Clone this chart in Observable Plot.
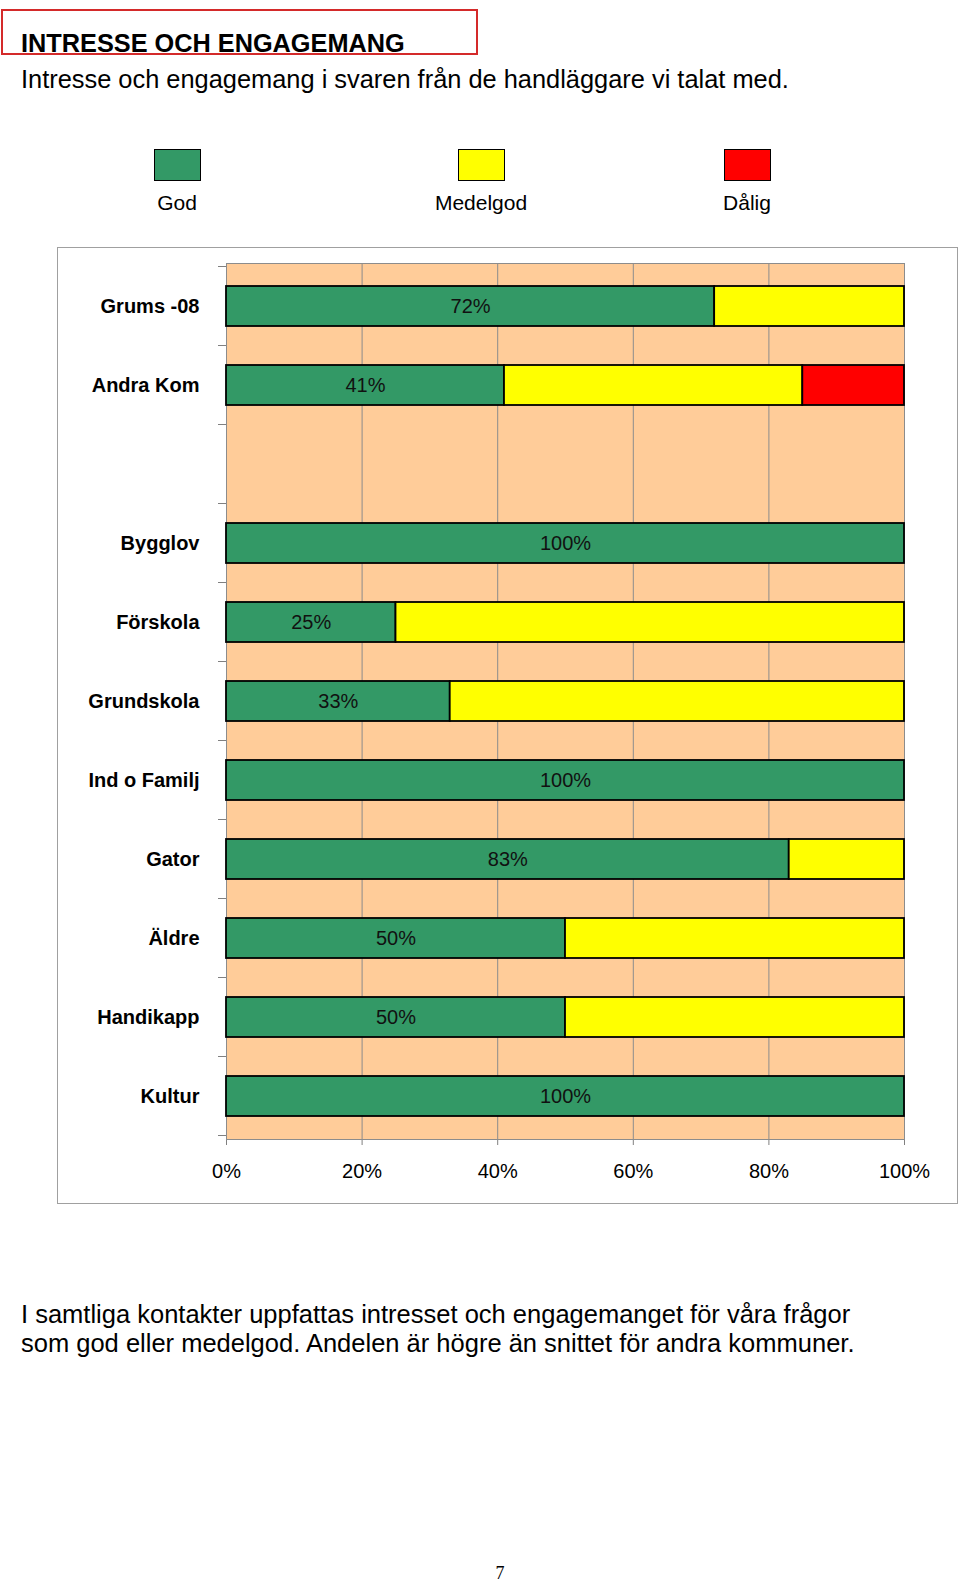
<!DOCTYPE html>
<html>
<head>
<meta charset="utf-8">
<script src="https://cdn.jsdelivr.net/npm/d3@7"></script>
<script src="https://cdn.jsdelivr.net/npm/@observablehq/plot@0.6"></script>
<style>
  html, body { margin: 0; padding: 0; background: #fff; }
  body { width: 960px; height: 1582px; position: relative; overflow: hidden;
         font-family: "Liberation Sans", Arial, sans-serif; color: #000; }
  .abs { position: absolute; white-space: nowrap; }
  #titlebox { left: 1px; top: 9px; width: 477px; height: 46px; border: 2px solid #d42a2a; box-sizing: border-box; }
  #title { left: 21px; top: 29px; font-size: 25.3px; font-weight: bold; line-height: 28px; }
  #subtitle { left: 21px; top: 65px; font-size: 25.4px; line-height: 28px; }
  .sw { position: absolute; top: 149px; width: 47px; height: 32px; border: 1.5px solid #000; box-sizing: border-box; }
  .lg { position: absolute; top: 191px; font-size: 21px; line-height: 24px; transform: translateX(-50%); white-space: nowrap; }
  #chartbox { left: 57px; top: 247px; width: 901px; height: 957px; border: 1px solid #a0a0a0; box-sizing: border-box; }
  #chart { position: absolute; left: 0; top: 247px; }
  #note { left: 21px; top: 1300px; font-size: 25.5px; line-height: 28.5px; }
  #page { left: 500px; top: 1563px; font-family: "Liberation Serif", "Times New Roman", serif; font-size: 18px; line-height: 20px; transform: translateX(-50%); }
  #chart svg g[aria-label^="y-axis"] text { font-weight: bold; }
  #chart svg g[aria-label^="x-axis"] path, #chart svg g[aria-label^="x-axis"] line { stroke: #808080; }
</style>
</head>
<body>
<div id="titlebox" class="abs"></div>
<div id="title" class="abs">INTRESSE OCH ENGAGEMANG</div>
<div id="subtitle" class="abs">Intresse och engagemang i svaren från de handläggare vi talat med.</div>
<div id="legend"></div>
<div id="chartbox" class="abs"></div>
<div id="chart"></div>
<div id="note" class="abs">I samtliga kontakter uppfattas intresset och engagemanget för våra frågor<br>som god eller medelgod. Andelen är högre än snittet för andra kommuner.</div>
<div id="page" class="abs">7</div>
<script>
// ---- data ----
const categories = ["Grums -08", "Andra Kom", " ", "Bygglov", "Förskola", "Grundskola", "Ind o Familj", "Gator", "Äldre", "Handikapp", "Kultur"];
const god      = [72, 41, null, 100, 25, 33, 100, 83, 50, 50, 100];
const medelgod = [28, 44, null,   0, 75, 67,   0, 17, 50, 50,   0];
const dalig    = [ 0, 15, null,   0,  0,  0,   0,  0,  0,  0,   0];
const seriesNames = ["God", "Medelgod", "Dålig"];
const seriesColors = ["#339966", "#FFFF00", "#FF0000"];
const xTicks = [0, 20, 40, 60, 80, 100];

// ---- legend (layout) ----
const legendCenters = [177, 481, 747];
const legend = document.getElementById("legend");
seriesNames.forEach((name, i) => {
  const sw = document.createElement("div");
  sw.className = "sw";
  sw.style.left = (legendCenters[i] - 23.5) + "px";
  sw.style.background = seriesColors[i];
  legend.appendChild(sw);
  const lb = document.createElement("div");
  lb.className = "lg";
  lb.style.left = legendCenters[i] + "px";
  lb.textContent = name;
  legend.appendChild(lb);
});

// ---- table ----
const series = [god, medelgod, dalig];
const rows = [];
categories.forEach((cat, i) => {
  series.forEach((vals, s) => {
    const v = vals[i];
    if (v != null && v > 0) rows.push({cat, series: seriesNames[s], value: v});
  });
});
const godRows = rows.filter(d => d.series === "God");

const W = 960, H = 957;
const mL = 226, mR = 56, mT = 16, mB = 65;

function boundaryTicks(index, scales, values, dimensions) {
  const y = scales.y;
  const n = categories.length;
  const step = (y && y.step) ? y.step() : (H - mT - mB) / n;
  const bw = (y && y.bandwidth) ? y.bandwidth() : step / 2;
  const g = d3.create("svg:g").attr("stroke", "#808080").attr("stroke-width", 1);
  const tops = categories.map(c => y(c) - (step - bw) / 2);
  tops.push(tops[tops.length - 1] + step);
  const left = dimensions.marginLeft;
  tops.forEach(t => {
    g.append("line").attr("x1", left - 8).attr("x2", left).attr("y1", t).attr("y2", t);
  });
  return g.node();
}

const plot = Plot.plot({
  width: W,
  height: H,
  marginLeft: mL,
  marginRight: mR,
  marginTop: mT,
  marginBottom: mB,
  style: {fontFamily: "'Liberation Sans', Arial, sans-serif", fontSize: "20px", background: "transparent", color: "#000", overflow: "visible"},
  x: {domain: [0, 100], ticks: xTicks, tickFormat: d => d + "%", tickSize: 6, tickPadding: 18, label: null},
  y: {domain: categories, paddingInner: 0.5, paddingOuter: 0.25, tickSize: 0, tickPadding: 27, label: null},
  color: {domain: seriesNames, range: seriesColors},
  marks: [
    Plot.frame({fill: "#FFCC99", stroke: "none"}),
    Plot.ruleX(xTicks, {stroke: "#8c8c8c", strokeWidth: 1}),
    Plot.frame({stroke: "#8c8c8c", fill: "none"}),
    Plot.barX(rows, Plot.stackX({x: "value", y: "cat", fill: "series", stroke: "#000", strokeWidth: 1.8})),
    Plot.text(godRows, {x: d => d.value / 2, y: "cat", text: d => d.value + "%", fill: "#111", fontSize: 20}),
    boundaryTicks
  ]
});
document.getElementById("chart").appendChild(plot);
</script>
</body>
</html>
